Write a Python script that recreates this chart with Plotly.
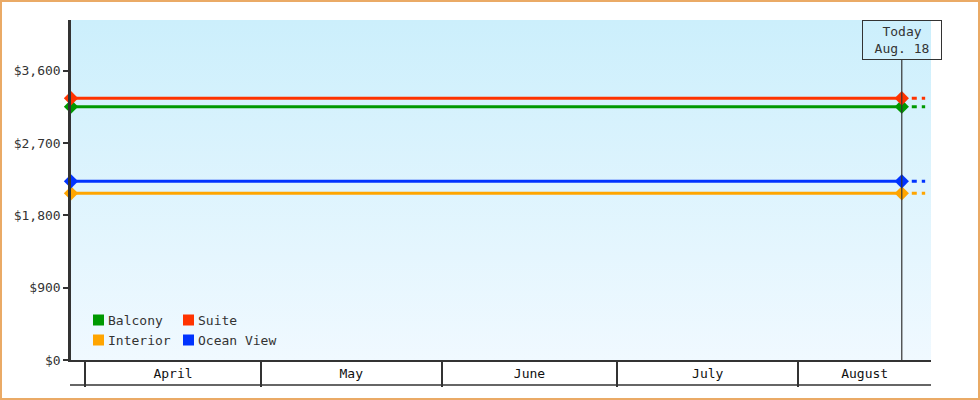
import pandas as pd
import plotly.graph_objects as go

# cabin prices, flat from the first tracked day up to today
cabins = ["Balcony", "Suite", "Interior", "Ocean View"]
prices = [3153, 3258, 2075, 2224]
colors = ["#009900", "#FF3300", "#FFA500", "#0033FF"]
dates = ["2025-03-29 13:00", "2025-08-18 17:00"]
forecast_end = "2025-08-22 17:00"
axis_end = "2025-08-23 17:00"
months = ["April", "May", "June", "July", "August"]
month_starts = ["2025-04-01", "2025-05-01", "2025-06-01", "2025-07-01", "2025-08-01"]
y_ticks = [0, 900, 1800, 2700, 3600]
y_labels = ["$0", "$900", "$1,800", "$2,700", "$3,600"]
y_top = 4232

W, H = 980, 400
ML, MR, MT, MB = 71, 49, 20, 40
PW, PH = W - ML - MR, H - MT - MB
FONT = "DejaVu Sans Mono"
INK = "#333333"


def px(x):
    return (x - ML) / PW


def py(y):
    return (H - MB - y) / PH


fig = go.Figure()

# background gradient of the plot area
fig.add_trace(go.Scatter(
    x=[dates[0], axis_end, axis_end, dates[0], dates[0]],
    y=[0, 0, y_top, y_top, 0],
    mode="lines", line=dict(width=0), fill="toself",
    fillgradient=dict(type="vertical", colorscale=[[0, "#F0F9FF"], [1, "#CCEFFC"]]),
    hoverinfo="skip", showlegend=False))

for name, price, color in zip(cabins, prices, colors):
    fig.add_trace(go.Scatter(
        x=[dates[1], forecast_end], y=[price, price], mode="lines",
        line=dict(color=color, width=3, dash="5px,5px"),
        hoverinfo="skip", showlegend=False))
    fig.add_trace(go.Scatter(
        x=dates, y=[price, price], mode="lines+markers", name=name,
        line=dict(color=color, width=3),
        marker=dict(symbol="diamond", size=11, color=color),
        cliponaxis=False, showlegend=False))

# month labels centred on the visible part of each month
t0, t1 = pd.Timestamp(dates[0]), pd.Timestamp(axis_end)
edges = [pd.Timestamp(m) for m in month_starts] + [t1]
label_pos = [edges[i] + (edges[i + 1] - edges[i]) / 2 for i in range(len(months))]

fig.update_xaxes(
    type="date", range=[dates[0], axis_end],
    showgrid=False, zeroline=False,
    showline=True, linecolor=INK, linewidth=2,
    tickvals=label_pos, ticktext=months, ticks="", ticklen=0,
    ticklabelstandoff=0,
    tickfont=dict(family=FONT, size=13, color="#111111"),
    minor=dict(tickvals=month_starts, ticks="outside", ticklen=25,
               tickwidth=1.5, tickcolor=INK, showgrid=False))

fig.update_yaxes(
    range=[0, y_top], showgrid=False, zeroline=False,
    showline=True, linecolor=INK, linewidth=2.5,
    tickvals=y_ticks, ticktext=y_labels,
    ticks="outside", ticklen=5, tickwidth=2, tickcolor=INK,
    tickfont=dict(family=FONT, size=13, color=INK))

shapes = [
    # today marker line
    dict(type="line", xref="x", yref="paper", x0=dates[1], x1=dates[1],
         y0=0, y1=py(60), line=dict(color=INK, width=1.2)),
    # bottom line of the month strip
    dict(type="line", xref="paper", yref="paper", x0=px(70), x1=1,
         y0=py(385), y1=py(385), line=dict(color=INK, width=1.5)),
    # outer frame
    dict(type="rect", xref="paper", yref="paper",
         x0=px(1), x1=px(W - 1), y0=py(H - 1), y1=py(1),
         line=dict(color="#EAAA66", width=2)),
]

# legend: two columns of coloured squares
for i, (name, color) in enumerate(zip(cabins, colors)):
    sx = 93 + 90 * (i % 2)
    sy = 320 + 20 * (i // 2)
    shapes.append(dict(type="rect", xref="paper", yref="paper",
                       x0=px(sx), x1=px(sx + 11), y0=py(sy + 5.5), y1=py(sy - 5.5),
                       fillcolor=color, line=dict(width=0)))
    fig.add_annotation(x=px(sx + 13), y=py(sy), xref="paper", yref="paper",
                       xanchor="left", yanchor="middle", text=name,
                       showarrow=False, font=dict(family=FONT, size=13, color=INK))

fig.add_annotation(
    x=dates[1], y=1, xref="x", yref="paper", yanchor="top",
    text="Today<br>Aug. 18", showarrow=False, align="center",
    width=76, height=36, borderpad=1,
    bordercolor=INK, borderwidth=1,
    font=dict(family=FONT, size=13, color=INK))

fig.update_layout(
    width=W, height=H,
    margin=dict(l=ML, r=MR, t=MT, b=MB),
    paper_bgcolor="white", plot_bgcolor="white",
    font=dict(family=FONT, size=13, color=INK),
    shapes=shapes,
    showlegend=False)

fig.write_html("out.html", config={"displayModeBar": False},
               post_script="document.body.style.margin='0';")
